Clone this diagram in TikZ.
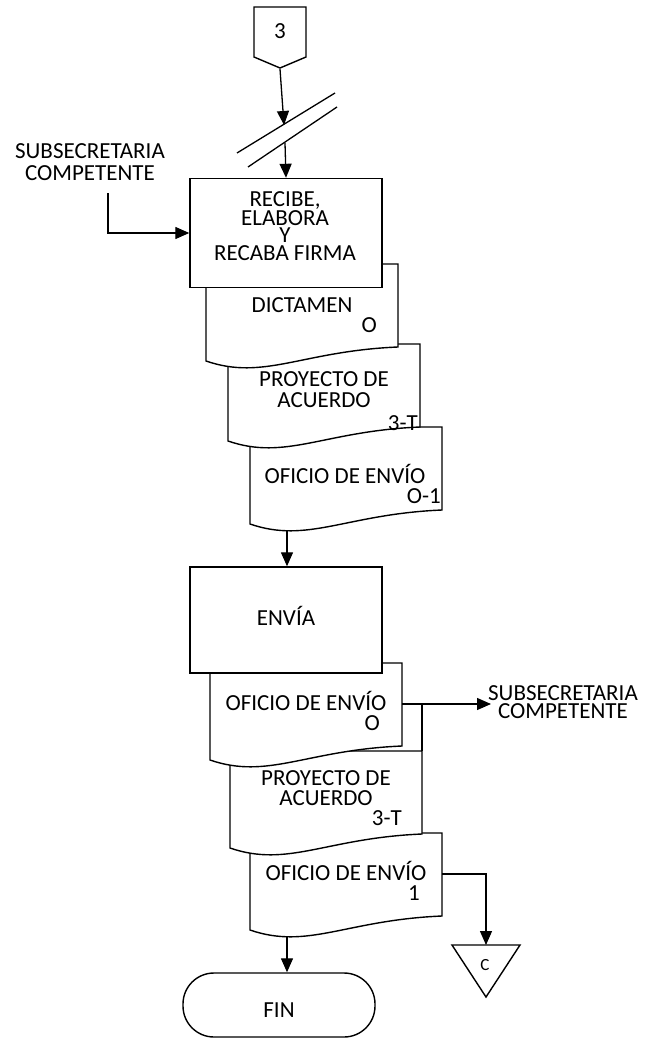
\documentclass[tikz,border=0pt]{standalone}
\usepackage{fontspec}
\setmainfont{Carlito}
\usetikzlibrary{arrows.meta}
% document shape: x0, ytop, name
\newcommand{\docshp}[3]{%
  \draw[shp] (#1,#2) -- (#1+192,#2) -- (#1+192,#2+83)
    .. controls (#1+96,#2+87) and (#1+58,#2+117) .. (#1,#2+97) -- cycle;
  \coordinate (#3-r) at (#1+192,#2+41);
  \coordinate (#3-b) at (#1+37,#2+103);
}
\begin{document}
\begin{tikzpicture}[x=1pt,y=-1pt,
  shp/.style={draw,line width=1.4pt,fill=white},
  conn/.style={line width=1.3pt},
  arr/.style={conn,-{Triangle[length=14pt,width=12pt]}},
  txt/.style={font=\fontsize{23}{23}\selectfont,inner sep=0pt,align=center},
  boxst/.style={shp,rectangle,minimum width=192pt,inner sep=0pt},
]
\useasboundingbox (0,0) rectangle (646,1043);

% off-page connector 3
\draw[shp] (254,7) -- (306,7) -- (306,57) -- (280,68) -- (254,57) -- cycle;
\node[txt,anchor=base] (n3) at (280,39) {3};
\coordinate (c3tip) at (280,69);
\coordinate (brkA) at (284,125);
\coordinate (brkB) at (285,143);
% break marks
\coordinate (b1a) at (237,153); \coordinate (b1b) at (335,93);
\coordinate (b2a) at (248,167); \coordinate (b2b) at (337,107);
\draw[conn] (b1a) -- (b1b);
\draw[conn] (b2a) -- (b2b);

% group 1 (back to front)
\docshp{250}{427}{d3}
\node[txt,anchor=base] (t3) at (345,483) {OFICIO DE ENVÍO};
\node[txt,anchor=base east] (t3c) at (441,503) {O-1};
\docshp{228}{344}{d2}
\node[txt,font=\fontsize{23}{21}\selectfont] (t2) at (324,390) {PROYECTO DE\\ACUERDO};
\node[txt,anchor=base east] (t2c) at (418,430) {3-T};
\docshp{206}{264}{d1}
\node[txt,anchor=base] (t1) at (302,312) {DICTAMEN};
\node[txt,anchor=base east] (t1c) at (377,332) {O};
\node[boxst,minimum height=109pt] (box1) at (286,233) {};
\node[txt,font=\fontsize{23}{17.7}\selectfont] (box1t) at (285,226) {RECIBE,\\ELABORA\\Y\\RECABA FIRMA};

\draw[arr] (c3tip) -- (brkA);
\draw[arr] (brkB) -- (box1.north);

\node[txt,font=\fontsize{23}{22}\selectfont] (sub1) at (90,162) {SUBSECRETARIA\\COMPETENTE};
\coordinate (s1) at (108,193);
\draw[arr] (s1) |- (box1.west);

% group 2
\docshp{250}{833}{d6}
\node[txt,anchor=base] (t6) at (346,880) {OFICIO DE ENVÍO};
\node[txt,anchor=base east] (t6c) at (420,900) {1};
\docshp{230}{751}{d5}
\node[txt,font=\fontsize{23}{20}\selectfont] (t5) at (326,788) {PROYECTO DE\\ACUERDO};
\node[txt,anchor=base east] (t5c) at (402,825) {3-T};
\docshp{210}{663}{d4}
\node[txt,anchor=base] (t4) at (306,710) {OFICIO DE ENVÍO};
\node[txt,anchor=base east] (t4c) at (380,730) {O};
\node[boxst,minimum height=106pt] (box2) at (286,620) {};
\node[txt,anchor=base] (box2t) at (286,625) {ENVÍA};

\draw[arr] (d3-b) -- (d3-b |- box2.north);

% to subsecretaria
\node[txt,font=\fontsize{23}{18}\selectfont] (sub2) at (563,702) {SUBSECRETARIA\\COMPETENTE};
\coordinate (s2) at (491,704);
\draw[arr] (d4-r) -- (s2);
\coordinate (j1) at (422,704);
\coordinate (j2) at (422,751);
\draw[conn] (j1) -- (j2);

% connector C
\draw[shp] (452,945) -- (520,945) -- (486,997) -- cycle;
\coordinate (ctop) at (486,945);
\node[txt,font=\fontsize{17}{17}\selectfont,anchor=base] (cl) at (485,970) {C};
\draw[arr] (d6-r) -| (ctop);

% FIN
\node[shp,rounded corners=31pt,minimum width=192pt,minimum height=64pt,inner sep=0pt] (fin) at (279,1005) {};
\node[txt,anchor=base] (fint) at (279,1017) {FIN};
\draw[arr] (d6-b) -- (d6-b |- fin.north);
\end{tikzpicture}
\end{document}
